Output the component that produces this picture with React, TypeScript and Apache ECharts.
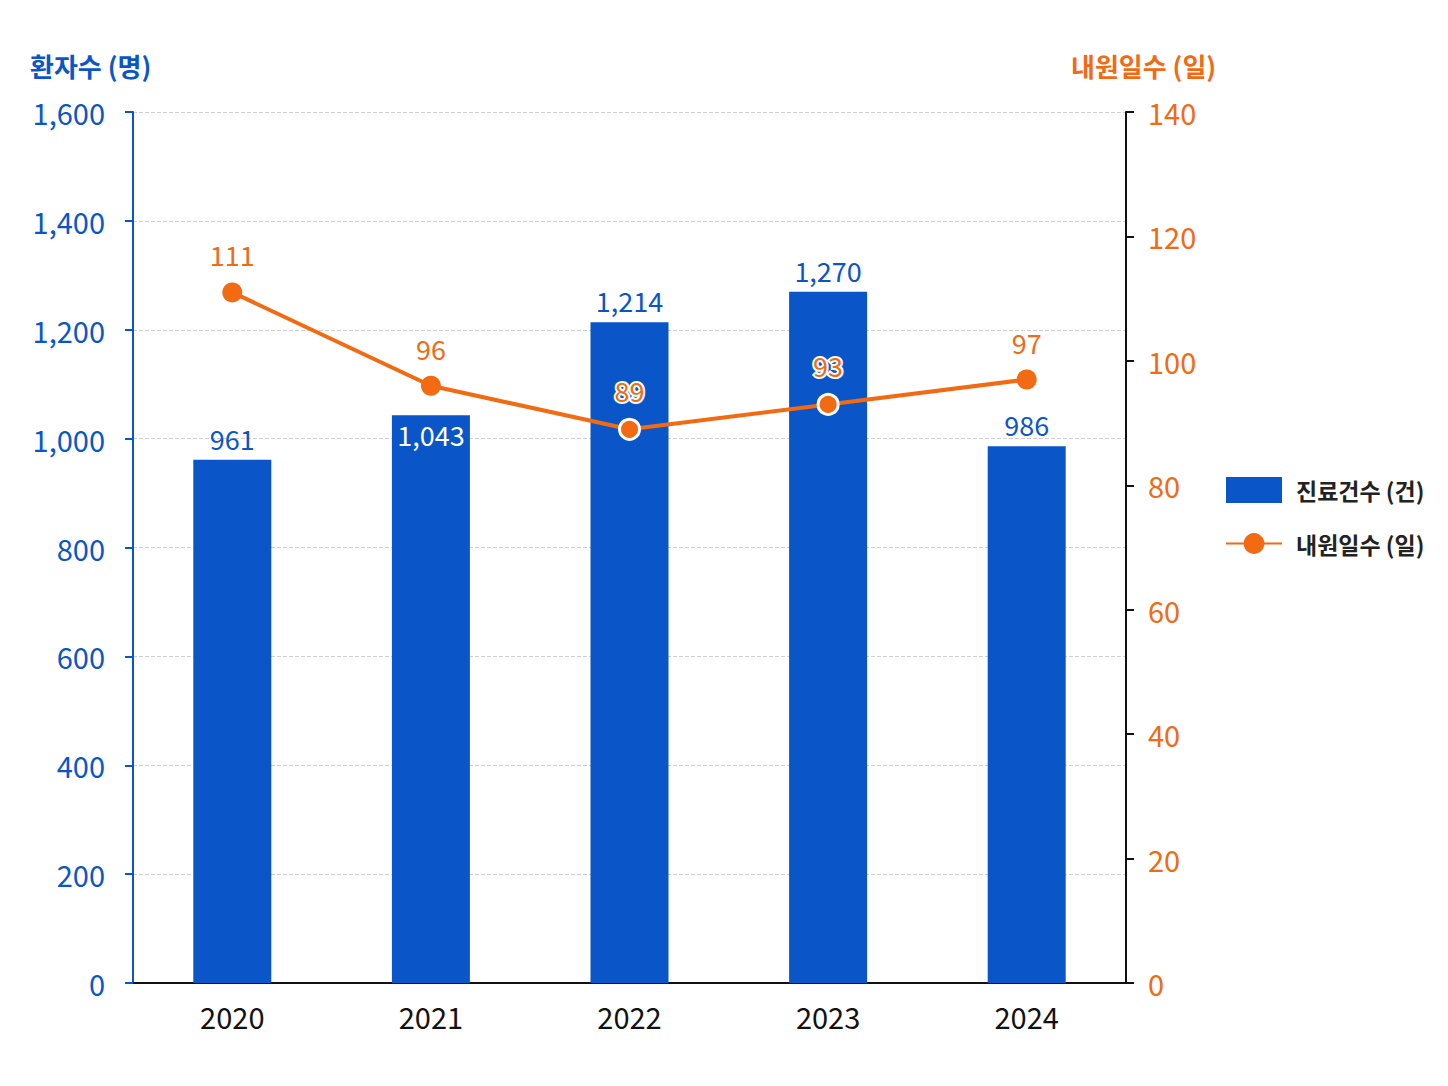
import React, { useEffect, useRef } from 'react';
import * as echarts from 'echarts';

const years = ['2020', '2021', '2022', '2023', '2024'];
const patients = [961, 1043, 1214, 1270, 986];
const visitDays = [111, 96, 89, 93, 97];

const BLUE = '#0a56c8';
const ORANGE = '#f26a12';
const FONT = '"Noto Sans CJK KR", "Noto Sans", sans-serif';

const App: React.FC = () => {
  const chartRef = useRef<HTMLDivElement>(null);

  useEffect(() => {
    if (!chartRef.current) return;
    const chart = echarts.init(chartRef.current, null, { renderer: 'svg' });

    const barData = patients.map((v, i) =>
      i === 1
        ? { value: v, label: { position: 'insideTop', color: '#fff', distance: 6 } }
        : v
    );
    const lineData = visitDays.map((v, i) =>
      i === 2 || i === 3
        ? {
            value: v,
            itemStyle: { borderColor: '#fff', borderWidth: 3 },
            label: { textBorderColor: '#fff', textBorderWidth: 4 },
          }
        : v
    );

    chart.setOption({
      animation: false,
      textStyle: { fontFamily: FONT },
      grid: { left: 125, right: 314, top: 104, bottom: 95 },
      legend: {
        orient: 'vertical',
        left: 1212,
        top: 464,
        itemWidth: 56,
        itemHeight: 26,
        itemGap: 29,
        textStyle: {
          fontSize: 23,
          fontWeight: 'bold',
          color: '#222',
          fontFamily: FONT,
          padding: [0, 0, 0, 9],
        },
        data: [{ name: '진료건수 (건)', icon: 'rect' }, { name: '내원일수 (일)' }],
      },
      graphic: [
        {
          type: 'text',
          left: 22,
          top: 44,
          style: { text: '환자수 (명)', fill: BLUE, font: `bold 26px ${FONT}` },
        },
        {
          type: 'text',
          left: 1063,
          top: 44,
          style: { text: '내원일수 (일)', fill: ORANGE, font: `bold 26px ${FONT}` },
        },
      ],
      xAxis: {
        type: 'category',
        data: years,
        axisLine: { lineStyle: { color: '#111', width: 2 } },
        axisTick: { show: false },
        axisLabel: { color: '#111', fontSize: 29, margin: 18, fontFamily: FONT },
      },
      yAxis: [
        {
          type: 'value',
          min: 0,
          max: 1600,
          interval: 200,
          axisLine: { show: true, lineStyle: { color: BLUE, width: 2 } },
          axisTick: { show: true, length: 8, lineStyle: { color: BLUE, width: 2 } },
          axisLabel: {
            color: BLUE,
            fontSize: 29,
            margin: 28,
            fontFamily: FONT,
            formatter: (v: number) => v.toLocaleString('en-US'),
          },
          splitLine: { lineStyle: { color: '#cfcfcf', type: 'dashed', width: 1 } },
        },
        {
          type: 'value',
          min: 0,
          max: 140,
          interval: 20,
          position: 'right',
          axisLine: { show: true, lineStyle: { color: '#111', width: 2 } },
          axisTick: { show: true, length: 8, lineStyle: { color: '#111', width: 2 } },
          axisLabel: { color: ORANGE, fontSize: 29, margin: 22, fontFamily: FONT },
          splitLine: { show: false },
        },
      ],
      series: [
        {
          name: '진료건수 (건)',
          type: 'bar',
          data: barData,
          barWidth: 78,
          itemStyle: { color: BLUE },
          label: {
            show: true,
            position: 'top',
            distance: 8,
            color: BLUE,
            fontSize: 27,
            fontFamily: FONT,
            formatter: (p: any) => Number(p.value).toLocaleString('en-US'),
          },
        },
        {
          name: '내원일수 (일)',
          type: 'line',
          yAxisIndex: 1,
          data: lineData,
          symbol: 'circle',
          symbolSize: 20,
          lineStyle: { color: ORANGE, width: 4 },
          itemStyle: { color: ORANGE },
          label: {
            show: true,
            position: 'top',
            distance: 14,
            color: ORANGE,
            fontSize: 27,
            fontFamily: FONT,
          },
          z: 5,
        },
      ],
    });

    return () => {
      chart.dispose();
    };
  }, []);

  return <div ref={chartRef} style={{ width: 1432, height: 1070 }} />;
};

export default App;
